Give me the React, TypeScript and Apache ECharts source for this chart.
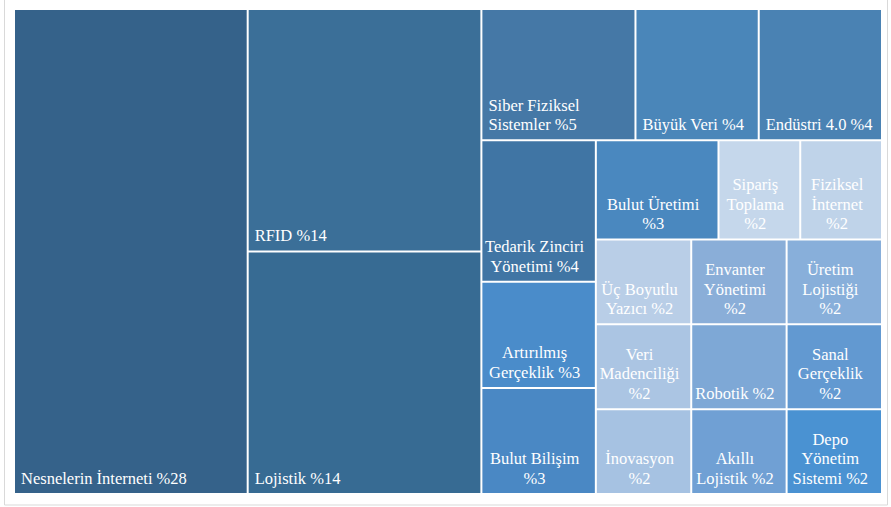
import React, { useEffect, useRef } from "react";
import * as echarts from "echarts";

const names = [
  "Nesnelerin İnterneti", "RFID", "Lojistik", "Siber Fiziksel Sistemler", "Büyük Veri",
  "Endüstri 4.0", "Tedarik Zinciri Yönetimi", "Artırılmış Gerçeklik", "Bulut Bilişim",
  "Bulut Üretimi", "Sipariş Toplama", "Fiziksel İnternet", "Üç Boyutlu Yazıcı",
  "Veri Madenciliği", "İnovasyon", "Envanter Yönetimi", "Üretim Lojistiği", "Robotik",
  "Akıllı Lojistik", "Sanal Gerçeklik", "Depo Yönetim Sistemi",
];
const values = [28, 14, 14, 5, 4, 4, 4, 3, 3, 3, 2, 2, 2, 2, 2, 2, 2, 2, 2, 2, 2];
const labels = [
  "Nesnelerin İnterneti %28", "RFID %14", "Lojistik %14", "Siber Fiziksel\nSistemler %5",
  "Büyük Veri %4", "Endüstri 4.0 %4", "Tedarik Zinciri\nYönetimi %4", "Artırılmış\nGerçeklik %3",
  "Bulut Bilişim\n%3", "Bulut Üretimi\n%3", "Sipariş\nToplama\n%2", "Fiziksel\nİnternet\n%2",
  "Üç Boyutlu\nYazıcı %2", "Veri\nMadenciliği\n%2", "İnovasyon\n%2", "Envanter\nYönetimi\n%2",
  "Üretim\nLojistiği\n%2", "Robotik %2", "Akıllı\nLojistik %2", "Sanal\nGerçeklik\n%2",
  "Depo\nYönetim\nSistemi %2",
];
const colors = [
  "#35628a", "#3b6f98", "#376b93", "#4578a6", "#4a86b9", "#4a82b3", "#4075a4", "#4a8cca",
  "#4a88c4", "#4a88bf", "#c5d7eb", "#bfd3e9", "#b9cee7", "#abc5e3", "#a6c2e2", "#8aaed8",
  "#88afda", "#7ea8d6", "#70a0d4", "#6299d1", "#4a92d2",
];

export default function App() {
  const ref = useRef<HTMLDivElement>(null);
  useEffect(() => {
    const chart = echarts.init(ref.current!, undefined, { renderer: "svg" });
    const data = names.map((n, i) => {
      const left = values[i] >= 5 || i === 4 || i === 5;
      return {
        name: n,
        value: values[i],
        itemStyle: { color: colors[i] },
        label: {
          formatter: labels[i],
          position: left ? "insideBottomLeft" : "insideBottom",
          padding: left ? [0, 0, 5, 6] : [0, 8, 5, 0],
        },
      };
    });
    // ECharts' treemap sort places equal values in reverse input order,
    // so feed the items reversed to keep the original order among ties.
    data.reverse();
    chart.setOption({
      animation: false,
      graphic: [
        {
          type: "rect",
          shape: { x: 4.5, y: -1, width: 883, height: 506 },
          style: { fill: "none", stroke: "#d9d9d9", lineWidth: 1 },
          silent: true,
        },
      ],
      series: [
        {
          type: "treemap",
          left: 14,
          top: 9,
          width: 868,
          height: 485,
          squareRatio: 1,
          roam: false,
          nodeClick: false,
          breadcrumb: { show: false },
          itemStyle: { borderWidth: 1, borderColor: "#fff", gapWidth: 0 },
          levels: [
            { itemStyle: { borderWidth: 0, gapWidth: 0 } },
            { itemStyle: { borderWidth: 1, borderColor: "#fff", gapWidth: 0 } },
          ],
          label: {
            show: true,
            distance: 0,
            color: "#fff",
            fontFamily: "Liberation Serif",
            fontSize: 16.5,
            lineHeight: 19.5,
            overflow: "none",
          },
          data,
        },
      ],
    });
    return () => chart.dispose();
  }, []);
  return (
    <div
      ref={ref}
      style={{ position: "fixed", left: 0, top: 0, width: 891, height: 507, background: "#fff" }}
    />
  );
}
